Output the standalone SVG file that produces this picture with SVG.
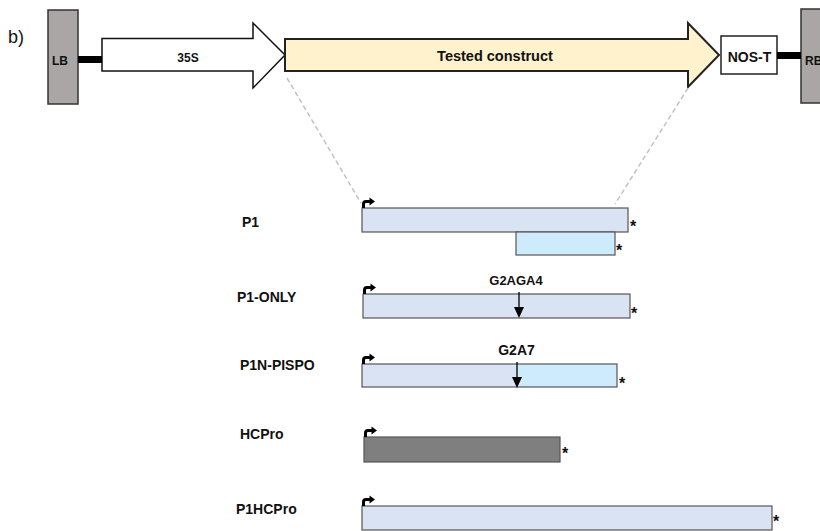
<svg xmlns="http://www.w3.org/2000/svg" width="820" height="531" viewBox="0 0 820 531">
  <style>
    text { font-family: "Liberation Sans", Arial, sans-serif; fill: #111; }
    .lbl { font-size: 14px; font-weight: bold; }
    .star { font-size: 16px; font-weight: bold; }
    .border { fill: #aaa6a5; stroke: #333; stroke-width: 1.5; }
    .link { fill: #000; }
    .bar { stroke: #555; stroke-width: 1.2; }
    .p1 { fill: #dae3f3; }
    .pispo { fill: #cdebfc; }
    .hc { fill: #7f7f7f; }
    .guide { stroke: #c3c3c3; stroke-width: 1.5; stroke-dasharray: 5 3; fill: none; }
    .tss { fill: none; stroke: #000; stroke-width: 3; }
    .cut { stroke: #000; stroke-width: 1.3; }
  </style>
  <defs>
    <!-- transcription start arrow, drawn at the bar's top-left corner -->
    <g id="tss">
      <path class="tss" d="M1.5,0 V-4 Q1.5,-6.5 4,-6.5 H8"/>
      <polygon points="7.5,-10.5 13,-6.5 7.5,-2.5" fill="#000"/>
    </g>
    <!-- cleavage site marker pointing down into a bar -->
    <g id="site">
      <line class="cut" x1="0" y1="0" x2="0" y2="18"/>
      <polygon points="-5,15 5,15 0,26" fill="#000"/>
    </g>
  </defs>

  <text x="8" y="43" style="font-size:18px">b)</text>

  <!-- expression cassette -->
  <g id="lb">
    <rect class="border" x="48" y="10" width="30" height="94"/>
    <text x="52" y="65" style="font-size:12px;font-weight:bold">LB</text>
  </g>
  <g id="p35s">
    <polygon points="102,38.5 253,38.5 253,23 285,55 253,88 253,71 102,71" fill="#fff" stroke="#111" stroke-width="1.5"/>
    <text x="188" y="62" text-anchor="middle" style="font-size:12px;font-weight:bold">35S</text>
  </g>
  <g id="tested">
    <polygon points="285,39 688,39 688,23 719,55 688,87 688,71 285,71" fill="#fff2cc" stroke="#222" stroke-width="2"/>
    <text x="495" y="61" text-anchor="middle" style="font-size:14.5px;font-weight:bold">Tested construct</text>
  </g>
  <g id="nos">
    <rect x="721" y="36" width="56" height="38" fill="#fff" stroke="#222" stroke-width="1.5"/>
    <text x="749.5" y="62" text-anchor="middle" class="lbl">NOS-T</text>
  </g>
  <g id="rb">
    <rect class="border" x="801" y="9" width="30" height="94"/>
    <text x="805" y="65" style="font-size:12px;font-weight:bold">RB</text>
  </g>

  <!-- connectors -->
  <g id="connectors">
    <rect class="link" x="78" y="56" width="24" height="7"/>
    <rect class="link" x="777" y="52" width="24" height="7"/>
    <line class="guide" x1="287" y1="78" x2="361" y2="203"/>
    <line class="guide" x1="688" y1="88" x2="615" y2="204"/>
  </g>

  <!-- P1 -->
  <g id="row-p1">
    <text class="lbl" x="242" y="227">P1</text>
    <rect class="bar p1" x="362" y="208" width="266" height="24"/>
    <rect class="bar pispo" x="516" y="232" width="99" height="23"/>
    <use href="#tss" x="362" y="208"/>
    <text class="star" x="630" y="232">*</text>
    <text class="star" x="616" y="256">*</text>
  </g>

  <!-- P1-ONLY -->
  <g id="row-p1only">
    <text class="lbl" x="237" y="302">P1-ONLY</text>
    <rect class="bar p1" x="363" y="294" width="267" height="24"/>
    <use href="#tss" x="363" y="294"/>
    <text x="516" y="285" text-anchor="middle" style="font-size:13px;font-weight:bold">G2AGA4</text>
    <use href="#site" x="519" y="292"/>
    <text class="star" x="631" y="319">*</text>
  </g>

  <!-- P1N-PISPO -->
  <g id="row-p1npispo">
    <text class="lbl" x="240" y="370">P1N-PISPO</text>
    <rect class="p1" x="362" y="364" width="155" height="23"/>
    <rect class="pispo" x="517" y="364" width="100" height="23"/>
    <rect class="bar" x="362" y="364" width="255" height="23" fill="none"/>
    <use href="#tss" x="362" y="364"/>
    <text x="516.5" y="355" text-anchor="middle" class="lbl">G2A7</text>
    <use href="#site" x="517" y="362"/>
    <text class="star" x="619" y="389">*</text>
  </g>

  <!-- HCPro -->
  <g id="row-hcpro">
    <text class="lbl" x="240" y="439">HCPro</text>
    <rect class="bar hc" x="364" y="437" width="196" height="25"/>
    <use href="#tss" x="364" y="437"/>
    <text class="star" x="562" y="459">*</text>
  </g>

  <!-- P1HCPro -->
  <g id="row-p1hcpro">
    <text class="lbl" x="236" y="514">P1HCPro</text>
    <rect class="bar p1" x="362" y="506" width="410" height="24"/>
    <use href="#tss" x="362" y="506"/>
    <text class="star" x="773" y="527">*</text>
  </g>
</svg>
